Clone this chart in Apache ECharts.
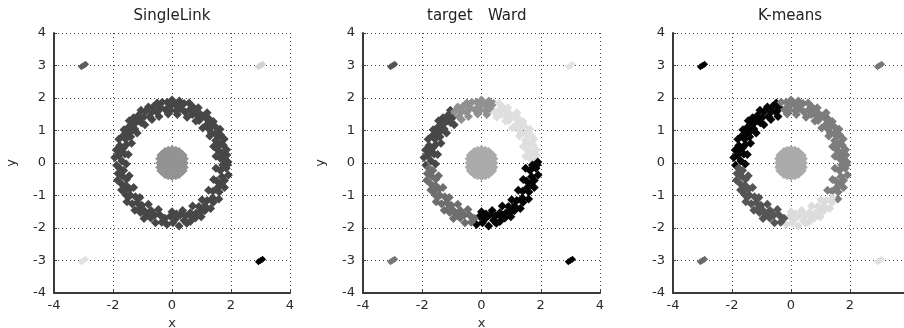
<!DOCTYPE html>
<html>
<head>
<meta charset="utf-8">
<script src="https://cdn.jsdelivr.net/npm/echarts@6/dist/echarts.min.js"></script>
<style>html,body{margin:0;padding:0;background:#fff;overflow:hidden}#c{width:904px;height:328px}</style>
</head>
<body>
<div id="c"></div>
<script>
// ---- data ----
const panelTitles = ['SingleLink', 'target', 'Ward', 'K-means'];
const xTicks = [-4, -2, 0, 2, 4];
const yTicks = [-4, -3, -2, -1, 0, 1, 2, 3, 4];

// ring of points, grouped by angular sector
const ringS1 = [[-0.17,-1.89],[-0.06,-1.64],[0.03,-1.84],[0.12,-1.72],[0.24,-1.94],[0.28,-1.60],[0.41,-1.77],[0.47,-1.63],[0.62,-1.80],[0.62,-1.53],[0.79,-1.69],[0.82,-1.54],[0.99,-1.65],[0.91,-1.34],[1.11,-1.47],[1.11,-1.32],[1.31,-1.40],[1.19,-1.15],[1.40,-1.21],[1.38,-1.08],[0.15,-1.57],[0.50,-1.85],[1.00,-1.48],[0.00,-1.50],[0.36,-1.46],[0.70,-1.32],[1.02,-1.13],[0.67,-1.65]];
const ringS2 = [[1.59,-1.11],[1.39,-0.87],[1.60,-0.89],[1.55,-0.75],[1.78,-0.75],[1.52,-0.55],[1.78,-0.54],[1.69,-0.42],[1.91,-0.37],[1.64,-0.23],[1.84,-0.16],[1.72,-0.06],[1.90,0.03],[1.65,-0.65],[1.88,-0.05],[1.24,-0.84],[1.41,-0.51],[1.49,-0.16]];
const ringS3 = [[1.64,0.14],[1.86,0.25],[1.69,0.30],[1.85,0.41],[1.55,0.41],[1.74,0.55],[1.67,0.61],[1.77,0.74],[1.48,0.69],[1.65,0.86],[1.51,0.87],[1.63,1.04],[1.33,0.93],[1.46,1.12],[1.35,1.13],[1.40,1.28],[1.17,1.17],[1.25,1.36],[1.16,1.38],[1.19,1.55],[0.92,1.31],[0.96,1.50],[0.85,1.47],[0.89,1.70],[0.69,1.49],[0.71,1.72],[0.60,1.64],[0.58,1.85],[0.45,1.56],[1.78,0.12],[1.60,0.55],[1.25,1.05],[1.05,1.45],[0.78,1.62],[1.55,0.95],[1.49,0.21],[1.41,0.51],[1.28,0.83],[1.04,1.08],[0.81,1.29],[0.51,1.41],[1.26,1.26],[1.59,0.84]];
const ringS4 = [[0.41,1.83],[0.30,1.67],[0.25,1.91],[0.14,1.61],[0.08,1.82],[0.00,1.94],[-0.08,1.72],[-0.16,1.87],[-0.22,1.64],[-0.33,1.87],[0.20,1.78],[-0.05,1.62],[0.18,1.49],[-0.13,1.51]];
const ringS5 = [[-0.39,1.70],[-0.50,1.85],[-0.51,1.56],[-0.63,1.74],[-0.67,1.58],[-0.80,1.72],[-0.76,1.43],[-0.91,1.58],[-0.45,1.62],[-0.44,1.43],[-0.68,1.34]];
const ringS6 = [[-1.05,1.62],[-0.98,1.39],[-1.14,1.46],[-1.04,1.24],[-1.30,1.39],[-1.24,1.24],[-1.45,1.30],[-1.26,1.05],[-1.47,1.11],[-1.39,0.98],[-1.63,1.02],[-1.40,0.81],[-1.66,0.84],[-1.57,0.73],[-1.80,0.73],[-1.55,0.56],[-1.77,0.54],[-1.66,0.45],[-1.89,0.40],[-1.60,0.28],[-1.81,0.22],[-1.94,0.17],[-1.70,0.06],[-1.88,-0.07],[-1.15,1.30],[-1.50,0.95],[-1.75,0.35],[-1.35,1.18],[-0.92,1.18],[-1.18,0.92],[-1.37,0.61],[-1.48,0.26],[-1.55,-0.03]];
const ringS7 = [[-1.64,-0.23],[-1.83,-0.32],[-1.70,-0.39],[-1.85,-0.53],[-1.54,-0.50],[-1.70,-0.65],[-1.55,-0.69],[-1.71,-0.83],[-1.43,-0.80],[-1.57,-0.98],[-1.41,-0.99],[-1.53,-1.19],[-1.24,-1.04],[-1.35,-1.25],[-1.18,-1.22],[-1.26,-1.45],[-1.02,-1.30],[-1.07,-1.52],[-0.93,-1.48],[-0.95,-1.71],[-0.71,-1.46],[-0.72,-1.69],[-0.58,-1.60],[-0.56,-1.84],[-0.40,-1.61],[-0.35,-1.82],[-0.24,-1.70],[-1.78,-0.15],[-1.62,-0.85],[-1.10,-1.40],[-0.85,-1.60],[-1.45,-0.39],[-1.30,-0.75],[-1.09,-1.06],[-0.80,-1.27],[-0.46,-1.43],[-1.47,-1.03],[-0.75,-1.61]];

// central disk
const centerPts = [
  [-0.4,0],[-0.27,0],[-0.13,0],[0,0],[0.13,0],[0.27,0],[0.4,0],
  [-0.4,0.13],[-0.27,0.13],[-0.13,0.13],[0,0.13],[0.13,0.13],[0.27,0.13],[0.4,0.13],
  [-0.4,-0.13],[-0.27,-0.13],[-0.13,-0.13],[0,-0.13],[0.13,-0.13],[0.27,-0.13],[0.4,-0.13],
  [-0.36,0.24],[-0.27,0.27],[-0.13,0.27],[0,0.27],[0.13,0.27],[0.27,0.27],[0.36,0.24],
  [-0.36,-0.24],[-0.27,-0.27],[-0.13,-0.27],[0,-0.27],[0.13,-0.27],[0.27,-0.27],[0.36,-0.24],
  [-0.24,0.34],[-0.13,0.38],[0,0.4],[0.13,0.38],[0.24,0.34],
  [-0.24,-0.34],[-0.13,-0.38],[0,-0.4],[0.13,-0.38],[0.24,-0.34]];

// four corner groups
const cornerTL = [[-3.07,2.96],[-3.0,3.0],[-2.93,3.04]];
const cornerTR = [[2.93,2.96],[3.0,3.0],[3.07,3.04]];
const cornerBL = [[-3.07,-3.04],[-3.0,-3.0],[-2.93,-2.96]];
const cornerBR = [[2.93,-3.04],[3.0,-3.0],[3.07,-2.96]];

// ---- colours per panel ----
const panels = [
  { groups: [
      [centerPts, '#939393', 10],
      [ringS1.concat(ringS2, ringS3, ringS4, ringS5, ringS6, ringS7), '#474747', 9],
      [cornerTL, '#5c5c5c', 7], [cornerTR, '#d2d2d2', 7], [cornerBL, '#e2e2e2', 7], [cornerBR, '#000000', 7] ] },
  { groups: [
      [centerPts, '#ababab', 10],
      [ringS6, '#484848', 9], [ringS4.concat(ringS5), '#909090', 9], [ringS3, '#dfdfdf', 9],
      [ringS1.concat(ringS2), '#050505', 9], [ringS7, '#6e6e6e', 9],
      [cornerTL, '#555555', 7], [cornerTR, '#e3e3e3', 7], [cornerBL, '#777777', 7], [cornerBR, '#000000', 7] ] },
  { groups: [
      [centerPts, '#ababab', 10],
      [ringS5.concat(ringS6), '#050505', 9], [ringS2.concat(ringS3, ringS4), '#7d7d7d', 9],
      [ringS1, '#dcdcdc', 9], [ringS7, '#555555', 9],
      [cornerTL, '#000000', 7], [cornerTR, '#777777', 7], [cornerBL, '#6a6a6a', 7], [cornerBR, '#e0e0e0', 7] ] }
];

const grids = [
  { left: 54, top: 33, width: 236, height: 260, outerBoundsMode: 'none', containLabel: false },
  { left: 363, top: 33, width: 237, height: 260, outerBoundsMode: 'none', containLabel: false },
  { left: 673, top: 33, width: 236, height: 260, outerBoundsMode: 'none', containLabel: false }
];
const showNames = [true, true, false];

const FONT = 'DejaVu Sans';
const xAxes = [], yAxes = [], series = [];
grids.forEach((g, i) => {
  const common = {
    type: 'value', min: xTicks[0], max: xTicks[xTicks.length - 1], gridIndex: i,
    axisLine: { show: true, onZero: false, lineStyle: { color: '#3a3a3a', width: 2 } },
    axisTick: { show: true, inside: true, length: 3, lineStyle: { color: '#3a3a3a' } },
    axisLabel: { color: '#2a2a2a', fontFamily: FONT, fontSize: 13 },
    splitLine: { show: true, lineStyle: { color: '#444', width: 1, type: [1, 3] } },
    nameTextStyle: { color: '#2a2a2a', fontFamily: FONT, fontSize: 13 }
  };
  xAxes.push(Object.assign({}, common, {
    interval: xTicks[1] - xTicks[0],
    name: showNames[i] ? 'x' : '', nameLocation: 'middle', nameGap: 18,
    axisLabel: Object.assign({}, common.axisLabel, { margin: 6 })
  }));
  yAxes.push(Object.assign({}, common, {
    min: yTicks[0], max: yTicks[yTicks.length - 1], interval: yTicks[1] - yTicks[0],
    name: showNames[i] ? 'y' : '', nameLocation: 'middle', nameGap: 36,
    axisLabel: Object.assign({}, common.axisLabel, { margin: 8 })
  }));
  panels[i].groups.forEach(([pts, col, sz]) => {
    series.push({
      type: 'scatter', xAxisIndex: i, yAxisIndex: i, data: pts,
      symbol: 'diamond', symbolSize: sz, silent: true,
      itemStyle: { color: col, opacity: 1 }
    });
  });
});

const titleStyle = { color: '#222', fontFamily: FONT, fontSize: 15, fontWeight: 'normal' };
const chart = echarts.init(document.getElementById('c'), null, { renderer: 'canvas' });
chart.setOption({
  animation: false,
  backgroundColor: '#ffffff',
  title: [
    { text: panelTitles[0], left: 172, top: 9, textAlign: 'center', padding: 0, textStyle: titleStyle },
    { text: panelTitles[1], left: 427, top: 9, padding: 0, textStyle: titleStyle },
    { text: panelTitles[2], left: 488, top: 9, padding: 0, textStyle: titleStyle },
    { text: panelTitles[3], left: 790, top: 9, textAlign: 'center', padding: 0, textStyle: titleStyle }
  ],
  grid: grids,
  xAxis: xAxes,
  yAxis: yAxes,
  series: series
});
</script>
</body>
</html>
